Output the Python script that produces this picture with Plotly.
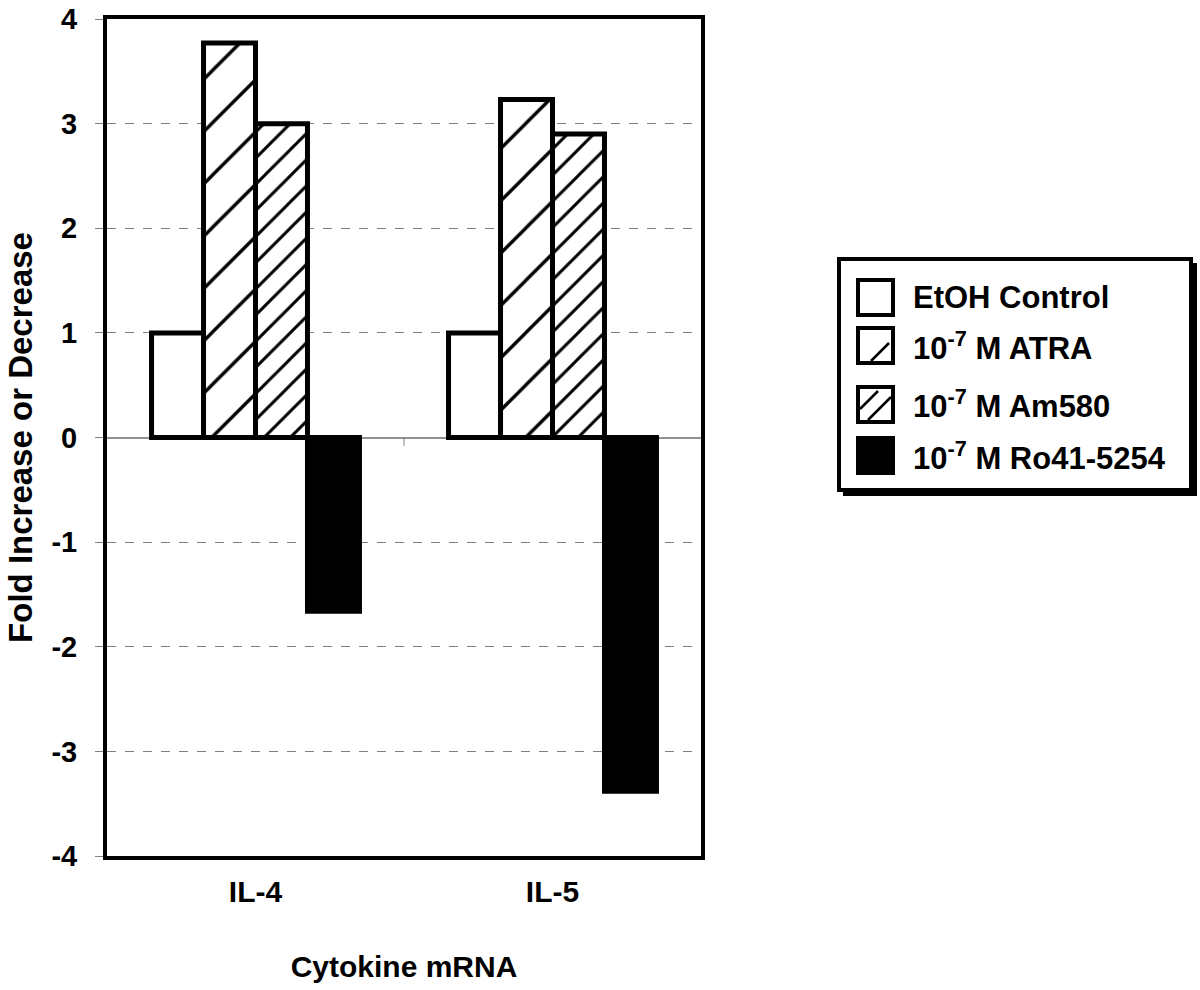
import plotly.graph_objects as go

# ---- data ----
categories = ["IL-4", "IL-5"]
series_names = ["EtOH Control", "10<sup>-7</sup> M ATRA", "10<sup>-7</sup> M Am580", "10<sup>-7</sup> M Ro41-5254"]
etoh = [1.0, 1.0]
atra = [3.77, 3.23]
am580 = [3.0, 2.9]
ro41 = [-1.66, -3.38]
y_ticks = [-4, -3, -2, -1, 0, 1, 2, 3, 4]
y_tick_labels = ["-4", "-3", "-2", "-1", "0", "1", "2", "3", "4"]

FONT = "Liberation Sans, Arial, sans-serif"

# ---- layout geometry (pixels) ----
W, H = 1200, 990
L, R, T, B = 107, 701, 19, 856


def px(x):
    return (x - L) / (R - L)


def py(y):
    return (B - y) / (B - T)


fig = go.Figure()

styles = [
    dict(color="white", pattern=None),
    dict(color="white", pattern=dict(shape="/", size=37, solidity=0.09, fgcolor="black", bgcolor="white", fillmode="replace")),
    dict(color="white", pattern=dict(shape="/", size=18.5, solidity=0.16, fgcolor="black", bgcolor="white", fillmode="replace")),
    dict(color="black", pattern=None),
]
values = [etoh, atra, am580, ro41]

for name, vals, st in zip(series_names, values, styles):
    marker = dict(color=st["color"], line=dict(color="black", width=5))
    if st["pattern"]:
        marker["pattern"] = st["pattern"]
    fig.add_trace(go.Bar(x=categories, y=vals, name=name, marker=marker, showlegend=False))

shapes = []
annotations = []

# small category divider tick on the zero line
shapes.append(dict(type="line", xref="x", yref="y", x0=0.5, x1=0.5, y0=0, y1=-0.08,
                   line=dict(color="#808080", width=1)))

# ---- manual legend ----
# shadow
shapes.append(dict(type="rect", xref="paper", yref="paper",
                   x0=px(843), x1=px(1197), y0=py(496), y1=py(263),
                   fillcolor="black", line=dict(width=0), layer="above"))
# box
shapes.append(dict(type="rect", xref="paper", yref="paper",
                   x0=px(839), x1=px(1191), y0=py(490), y1=py(259),
                   fillcolor="white", line=dict(color="black", width=4), layer="above"))

row_tops = [280, 328, 387, 438]
sw = 35
for i, (name, top) in enumerate(zip(series_names, row_tops)):
    fill = "black" if i == 3 else "white"
    shapes.append(dict(type="rect", xref="paper", yref="paper",
                       x0=px(858), x1=px(858 + sw), y0=py(top + sw), y1=py(top),
                       fillcolor=fill, line=dict(color="black", width=4), layer="above"))
    annotations.append(dict(xref="paper", yref="paper", x=px(911), y=py(top + sw / 2),
                            xanchor="left", yanchor="middle", showarrow=False, text=name,
                            font=dict(family=FONT, size=31, color="black", weight="bold")))

# hatch lines in legend swatches
hatch = [
    (row_tops[1], [(13, 33, 31, 15)]),
    (row_tops[2], [(2, 22, 20, 4), (10, 33, 33, 10)]),
]
for top, segs in hatch:
    for (x0, y0, x1, y1) in segs:
        shapes.append(dict(type="line", xref="paper", yref="paper",
                           x0=px(858 + x0), y0=py(top + y0), x1=px(858 + x1), y1=py(top + y1),
                           line=dict(color="black", width=2.5), layer="above"))

fig.update_layout(
    width=W, height=H,
    margin=dict(l=L, r=W - R, t=T, b=H - B, autoexpand=False),
    paper_bgcolor="white", plot_bgcolor="white",
    barmode="group", bargap=0.3, bargroupgap=0,
    showlegend=False,
    shapes=shapes, annotations=annotations,
    font=dict(family=FONT, color="black"),
)

fig.update_xaxes(
    type="category", showline=True, mirror=True, linewidth=4, linecolor="black",
    ticks="", showgrid=False, zeroline=False,
    tickfont=dict(family=FONT, size=30, color="black", weight="bold"),
    ticklabelstandoff=6,
    title=dict(text="Cytokine mRNA", standoff=50,
               font=dict(family=FONT, size=30, color="black", weight="bold")),
    automargin=False,
)

fig.update_yaxes(
    range=[-4, 4], tickvals=y_ticks, ticktext=y_tick_labels,
    ticks="outside", ticklen=8, tickwidth=1, tickcolor="#808080",
    showline=True, mirror=True, linewidth=4, linecolor="black",
    showgrid=True, gridcolor="#808080", gridwidth=1, griddash="dash",
    zeroline=True, zerolinecolor="#909090", zerolinewidth=1.5,
    tickfont=dict(family=FONT, size=29, color="black", weight="bold"),
    ticklabelstandoff=12,
    title=dict(text="Fold Increase or Decrease", standoff=10,
               font=dict(family=FONT, size=33, color="black", weight="bold")),
    automargin=False,
)

fig.write_html("out.html", config={"displayModeBar": False},
               post_script="document.body.style.margin='0';document.body.style.padding='0';")
